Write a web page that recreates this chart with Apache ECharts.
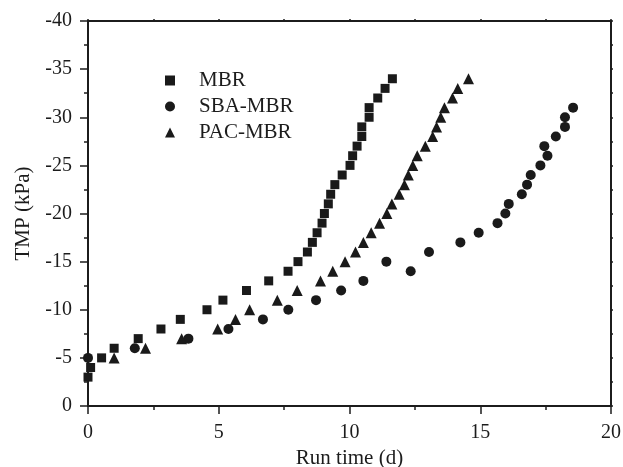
<!DOCTYPE html>
<html>
<head>
<meta charset="utf-8">
<script src="https://cdn.jsdelivr.net/npm/echarts@6/dist/echarts.min.js"></script>
<style>html,body{margin:0;padding:0;background:#fff;}#c{width:623px;height:467px;}</style>
</head>
<body>
<div id="c"></div>
<script>
// Run time (d) and TMP (kPa)
const mbrX = [0, 0.1, 0.52, 1.0, 1.92, 2.79, 3.53, 4.55, 5.16, 6.06, 6.91, 7.65, 8.03, 8.39, 8.58, 8.76, 8.95, 9.04, 9.19, 9.28, 9.44, 9.72, 10.02, 10.12, 10.29, 10.47, 10.47, 10.75, 10.75, 11.08, 11.36, 11.64];
const mbrY = [-3, -4, -5, -6, -7, -8, -9, -10, -11, -12, -13, -14, -15, -16, -17, -18, -19, -20, -21, -22, -23, -24, -25, -26, -27, -28, -29, -30, -31, -32, -33, -34];

const sbaX = [0, 1.79, 3.84, 5.37, 6.69, 7.66, 8.72, 9.68, 10.53, 12.34, 11.41, 13.04, 14.24, 14.94, 15.66, 15.96, 16.09, 16.59, 16.79, 16.93, 17.3, 17.57, 17.45, 17.89, 18.24, 18.24, 18.55];
const sbaY = [-5, -6, -7, -8, -9, -10, -11, -12, -13, -14, -15, -16, -17, -18, -19, -20, -21, -22, -23, -24, -25, -26, -27, -28, -29, -30, -31];

const pacX = [1.0, 2.2, 3.58, 4.96, 5.64, 6.18, 7.24, 8.0, 8.89, 9.36, 9.83, 10.23, 10.53, 10.83, 11.15, 11.43, 11.62, 11.9, 12.1, 12.25, 12.42, 12.59, 12.9, 13.18, 13.33, 13.49, 13.63, 13.94, 14.14, 14.55];
const pacY = [-5, -6, -7, -8, -9, -10, -11, -12, -13, -14, -15, -16, -17, -18, -19, -20, -21, -22, -23, -24, -25, -26, -27, -28, -29, -30, -31, -32, -33, -34];

const seriesNames = ['MBR', 'SBA-MBR', 'PAC-MBR'];
const xTitle = 'Run time (d)';
const yTitle = 'TMP (kPa)';

function zip(xs, ys) { return xs.map((x, i) => [x, ys[i]]); }

const ink = '#1c1c1c';
const font = 'Liberation Serif, Times New Roman, serif';

const chart = echarts.init(document.getElementById('c'));
const axisLine = { show: true, onZero: false, lineStyle: { color: ink, width: 2 } };

chart.setOption({
  animation: false,
  backgroundColor: '#fff',
  grid: { left: 88, right: 12, top: 21, bottom: 61, containLabel: false, outerBoundsMode: 'none' },
  legend: {
    orient: 'vertical',
    left: 160,
    top: 65,
    itemWidth: 10,
    itemHeight: 10,
    itemGap: 5,
    data: [
      { name: 'MBR', icon: 'rect' },
      { name: 'SBA-MBR', icon: 'circle' },
      { name: 'PAC-MBR', icon: 'triangle' }
    ],
    textStyle: { fontFamily: font, fontSize: 21, color: ink, padding: [0, 0, 0, 19] }
  },
  xAxis: [{
    type: 'value', min: 0, max: 20, interval: 5,
    name: xTitle, nameLocation: 'middle', nameGap: 40,
    nameTextStyle: { fontFamily: font, fontSize: 21, color: ink },
    axisLine: axisLine,
    axisTick: { show: true, inside: false, length: 8, lineStyle: { color: ink, width: 1.5 } },
    minorTick: { show: true, splitNumber: 2, length: 4, lineStyle: { color: ink, width: 1.5 } },
    axisLabel: { fontFamily: font, fontSize: 20, color: ink, margin: 17 },
    splitLine: { show: false }
  }, {
    type: 'value', min: 0, max: 20, interval: 5, position: 'top',
    axisLine: axisLine,
    axisTick: { show: true, length: 2, lineStyle: { color: ink, width: 1.5 } },
    minorTick: { show: true, splitNumber: 2, length: 2, lineStyle: { color: ink, width: 1.5 } },
    axisLabel: { show: false },
    splitLine: { show: false }
  }],
  yAxis: [{
    type: 'value', min: -40, max: 0, interval: 5, inverse: true,
    name: yTitle, nameLocation: 'middle', nameGap: 54, nameRotate: 90,
    nameTextStyle: { fontFamily: font, fontSize: 21, color: ink },
    axisLine: axisLine,
    axisTick: { show: true, inside: false, length: 8, lineStyle: { color: ink, width: 1.5 } },
    minorTick: { show: true, splitNumber: 2, length: 4, lineStyle: { color: ink, width: 1.5 } },
    axisLabel: { fontFamily: font, fontSize: 20, color: ink, margin: 16 },
    splitLine: { show: false }
  }, {
    type: 'value', min: -40, max: 0, interval: 5, inverse: true, position: 'right',
    axisLine: axisLine,
    axisTick: { show: true, length: 2, lineStyle: { color: ink, width: 1.5 } },
    minorTick: { show: true, splitNumber: 2, length: 2, lineStyle: { color: ink, width: 1.5 } },
    axisLabel: { show: false },
    splitLine: { show: false }
  }],
  series: [
    { name: seriesNames[0], type: 'scatter', symbol: 'rect', symbolSize: 9,
      itemStyle: { color: '#1a1a1a', opacity: 1 }, data: zip(mbrX, mbrY) },
    { name: seriesNames[1], type: 'scatter', symbol: 'circle', symbolSize: 10,
      itemStyle: { color: '#1a1a1a', opacity: 1 }, data: zip(sbaX, sbaY) },
    { name: seriesNames[2], type: 'scatter', symbol: 'triangle', symbolSize: 11,
      itemStyle: { color: '#1a1a1a', opacity: 1 }, data: zip(pacX, pacY) }
  ]
});
</script>
</body>
</html>
